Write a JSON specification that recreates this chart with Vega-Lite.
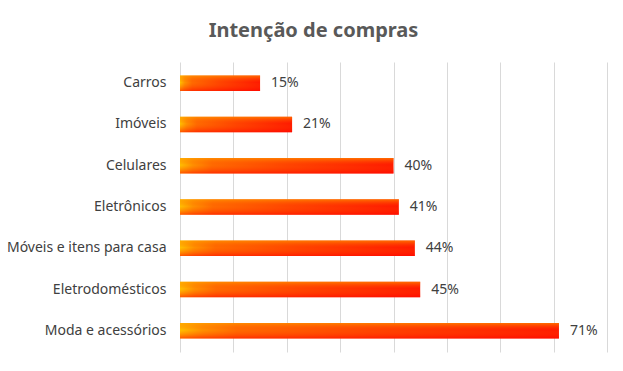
{
  "$schema": "https://vega.github.io/schema/vega-lite/v6.json",
  "width": 427,
  "height": 290,
  "autosize": {"type": "none"},
  "padding": {"left": 180, "top": 62, "right": 16, "bottom": 19},
  "background": "white",
  "title": {
    "text": "Intenção de compras",
    "font": "Noto Sans",
    "fontSize": 20,
    "fontWeight": "bold",
    "color": "#595959",
    "anchor": "middle",
    "dx": -80,
    "offset": 21
  },
  "config": {
    "view": {"stroke": null},
    "font": "Noto Sans"
  },
  "data": {
    "values": [
      {"categoria": "Carros", "valor": 0.15},
      {"categoria": "Imóveis", "valor": 0.21},
      {"categoria": "Celulares", "valor": 0.40},
      {"categoria": "Eletrônicos", "valor": 0.41},
      {"categoria": "Móveis e itens para casa", "valor": 0.44},
      {"categoria": "Eletrodomésticos", "valor": 0.45},
      {"categoria": "Moda e acessórios", "valor": 0.71}
    ]
  },
  "encoding": {
    "y": {
      "field": "categoria",
      "type": "nominal",
      "sort": ["Carros", "Imóveis", "Celulares", "Eletrônicos", "Móveis e itens para casa", "Eletrodomésticos", "Moda e acessórios"],
      "scale": {"paddingInner": 0.63, "paddingOuter": 0.33},
      "axis": {
        "title": null,
        "domain": false,
        "ticks": false,
        "labelPadding": 14,
        "labelFontSize": 14,
        "labelColor": "#404040",
        "labelFont": "Noto Sans"
      }
    },
    "x": {
      "field": "valor",
      "type": "quantitative",
      "scale": {"domain": [0, 0.8], "nice": false},
      "axis": {
        "title": null,
        "domain": false,
        "ticks": false,
        "labels": false,
        "values": [0, 0.1, 0.2, 0.3, 0.4, 0.5, 0.6, 0.7, 0.8],
        "grid": true,
        "gridColor": "#D9D9D9",
        "gridWidth": 1
      }
    }
  },
  "layer": [
    {
      "mark": {
        "type": "bar",
        "color": {
          "gradient": "linear",
          "x1": 0, "y1": 0, "x2": 1, "y2": 0,
          "stops": [
            {"offset": 0, "color": "#FFC000"},
            {"offset": 0.06, "color": "#FF9000"},
            {"offset": 0.15, "color": "#FF6A00"},
            {"offset": 0.5, "color": "#FF4400"},
            {"offset": 1, "color": "#FF1A00"}
          ]
        }
      }
    },
    {
      "mark": {
        "type": "bar",
        "color": {
          "gradient": "linear",
          "x1": 0, "y1": 0, "x2": 0, "y2": 1,
          "stops": [
            {"offset": 0, "color": "rgba(255,160,0,0.6)"},
            {"offset": 0.45, "color": "rgba(255,80,0,0)"},
            {"offset": 1, "color": "rgba(255,0,0,0.55)"}
          ]
        }
      }
    },
    {
      "mark": {
        "type": "text",
        "align": "left",
        "baseline": "middle",
        "dx": 11,
        "fontSize": 14,
        "color": "#404040",
        "font": "Noto Sans"
      },
      "encoding": {
        "text": {"field": "valor", "type": "quantitative", "format": ".0%"}
      }
    }
  ]
}
